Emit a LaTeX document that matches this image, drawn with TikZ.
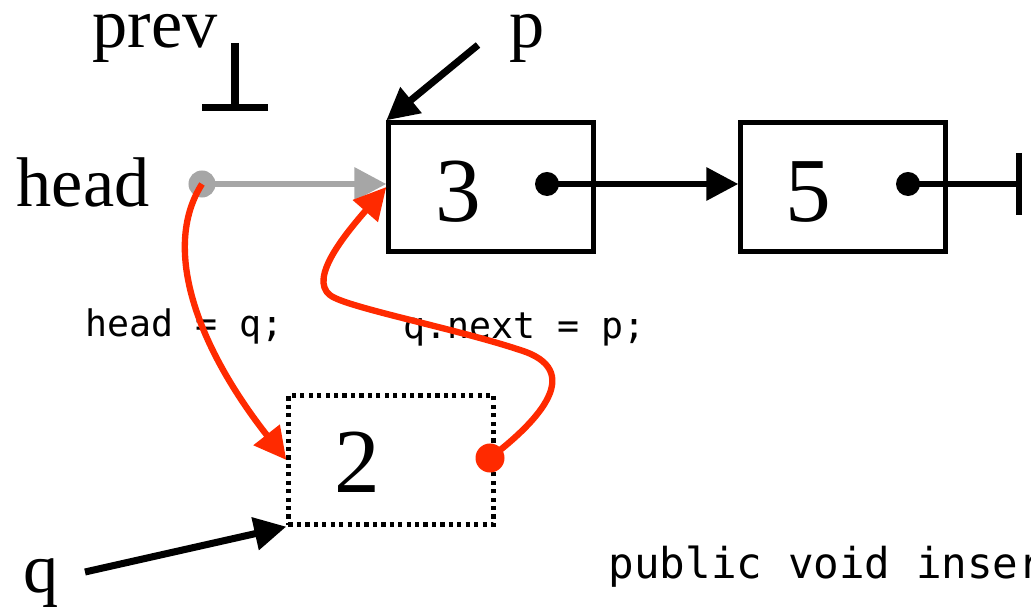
\documentclass[tikz,border=0pt]{standalone}
\usepackage{fontspec}
\setmainfont{Liberation Serif}
\newfontfamily\codefont{DejaVu Sans Mono}
\usetikzlibrary{arrows.meta}
\definecolor{redline}{HTML}{FF2A00}
\definecolor{grayline}{HTML}{A6A6A6}
\begin{document}
\begin{tikzpicture}[x=0.01cm, y=-0.01cm,
  cell/.style={draw, line width=1.2pt, minimum width=2.05cm, minimum height=1.29cm, inner sep=0},
  ptr/.style={circle, fill, inner sep=0, minimum size=0.24cm},
  lbl/.style={font=\fontsize{20}{24}\selectfont, inner sep=0},
  num/.style={font=\fontsize{26}{30}\selectfont, inner sep=0},
  code/.style={font=\codefont\fontsize{10.4}{12}\selectfont, inner sep=0},
  link/.style={line width=1.8pt, -{Triangle[length=0.32cm, width=0.32cm]}}]
\useasboundingbox (0,0) rectangle (1031,607);
\clip (0,0) rectangle (1031,607);
% list cells
\node[cell] (c3) at (491,187){};
\node[cell] (c5) at (843,187){};
\node[cell, dash pattern=on 1.2pt off 1.2pt] (c2) at (391,460){};
\node[num] (v3) at (458,192){3};
\node[num] (v5) at (808,192){5};
\node[num] (v2) at (357,462){2};
% labels
\node[lbl, anchor=base] (prev) at (155,48){prev};
\node[lbl, anchor=base] (head) at (83,207){head};
\node[lbl, anchor=base] (p) at (527,48){p};
\node[lbl, anchor=base] (q) at (41,592){q};
\node[code, anchor=base west] (setq) at (85,337){head = q;};
\node[code, anchor=base west] (setnext) at (403,339){q.next = p;};
\node[code, font=\codefont\fontsize{12.1}{14}\selectfont, anchor=base west] (sig) at (608,578){public void inser};
% pointers
\coordinate (pvtop) at (235,43);
\coordinate (pvnil) at (235,111);
\coordinate (nil) at (1022,184);
\coordinate (pstart) at (478,45);
\coordinate (qstart) at (85,572);
\node[ptr, grayline, minimum size=0.27cm] (hd) at (202,184){};
\node[ptr] (n3) at (547,184){};
\node[ptr] (n5) at (908,184){};
\node[ptr, redline, minimum size=0.29cm] (n2) at (490,458){};
\draw[line width=2pt, -{Bar[width=0.66cm]}](pvtop) -- (pvnil);
\draw[link, grayline](hd.center) -- (hd -| c3.west);
\draw[link](n3.center) -- (n3 -| c5.west);
\draw[line width=1.8pt, -{Bar[width=0.62cm]}](n5.center) -- (nil);
\draw[link, line width=2pt](pstart) -- (c3.north west);
\draw[link, line width=2pt](qstart) -- (c2.south west);
% new links
\draw[link, redline](hd.center) .. controls (160,250) and (200,350) .. (c2.west);
\draw[link, redline](n2.center) .. controls (540,420) and (585,370) .. (520,350) .. controls (460,330) and (360,310) .. (335,298) .. controls (305,285) and (340,240) .. (c3.west);
\end{tikzpicture}
\end{document}
